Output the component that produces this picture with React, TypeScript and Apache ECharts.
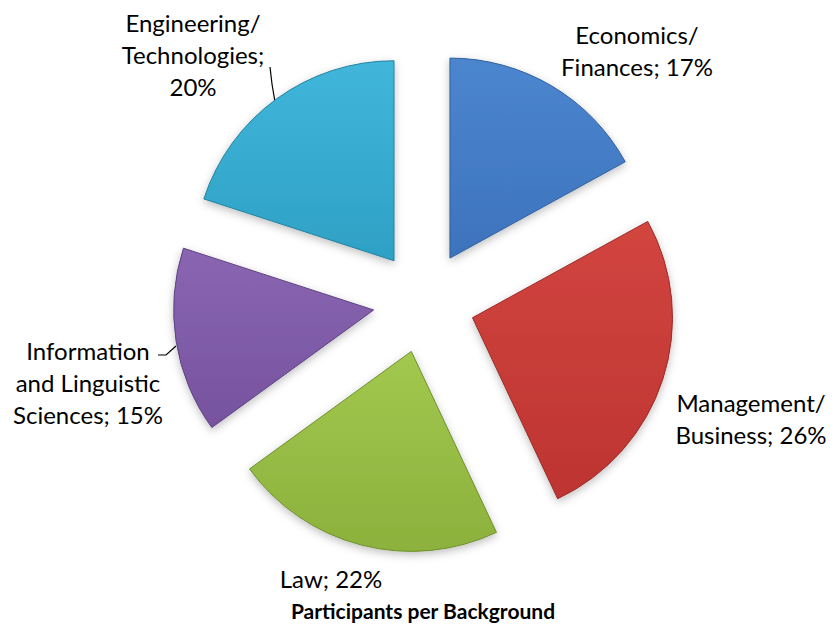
import React, { useEffect, useRef } from "react";
import * as echarts from "echarts";

const categories = [
  "Economics/Finances",
  "Management/Business",
  "Law",
  "Information and Linguistic Sciences",
  "Engineering/Technologies",
];
const shares = [17, 26, 22, 15, 20];
const labelNames = [
  "Economics/\nFinances",
  "Management/\nBusiness",
  "Law",
  "Information\nand Linguistic\nSciences",
  "Engineering/\nTechnologies",
];
const labelSeparators = ["; ", "; ", "; ", "; ", ";\n"];
const sliceLight = ["#4B86CF", "#D2453F", "#A2C84F", "#8A66B2", "#40B6DA"];
const sliceDark = ["#3D73BC", "#BD3431", "#8CB13C", "#76529F", "#2EA1C5"];
const sliceBorders = ["#2F5F9E", "#9A2A28", "#6E8F2C", "#5C4180", "#23819F"];
const chartTitle = "Participants per Background";

export default function App() {
  const ref = useRef<HTMLDivElement>(null);
  useEffect(() => {
    document.body.style.margin = "0";
    if (!ref.current) return;
    const chart = echarts.init(ref.current, null, { renderer: "svg" });
    const total = shares.reduce((a, b) => a + b, 0);
    const labelPos = [
      { x: 637, y: 50 },
      { x: 751, y: 418 },
      { x: 331, y: 578 },
      { x: 88, y: 382 },
      { x: 193, y: 54 },
    ];
    const leaderLines = [
      [[158, 355], [166, 355], [176, 346]],
      [[270, 67], [272, 84], [275, 102]],
    ];
    const font = "24px Lato";
    const labelGraphics: any[] = categories.map((_, i) => ({
      type: "text",
      x: labelPos[i].x,
      y: labelPos[i].y,
      silent: true,
      style: {
        text:
          labelNames[i] + labelSeparators[i] + Math.round((shares[i] / total) * 100) + "%",
        font,
        lineHeight: 32,
        fill: "#000",
        align: "center",
        verticalAlign: "middle",
      },
    }));
    const lineGraphics: any[] = leaderLines.map((pts) => ({
      type: "polyline",
      silent: true,
      shape: { points: pts },
      style: { stroke: "#000", lineWidth: 1.2, fill: null },
    }));
    chart.setOption({
      animation: false,
      backgroundColor: "#ffffff",
      title: {
        text: chartTitle,
        left: 423,
        top: 599,
        padding: 0,
        textAlign: "center",
        textStyle: {
          fontFamily: "Lato",
          fontWeight: "bold",
          fontSize: 21,
          lineHeight: 23,
          color: "#000",
        },
      },
      graphic: [...labelGraphics, ...lineGraphics],
      series: [
        {
          type: "pie",
          center: [424, 302],
          radius: 200,
          startAngle: 90,
          clockwise: true,
          selectedMode: "multiple",
          selectedOffset: 51,
          emphasis: { disabled: true },
          label: { show: false },
          labelLine: { show: false },
          data: categories.map((name, i) => ({
            name,
            value: shares[i],
            selected: true,
            itemStyle: {
              color: new echarts.graphic.LinearGradient(0, 0, 0, 1, [
                { offset: 0, color: sliceLight[i] },
                { offset: 1, color: sliceDark[i] },
              ]),
              borderColor: sliceBorders[i],
              borderWidth: 1,
              shadowBlur: 8,
              shadowOffsetY: 3,
              shadowColor: "rgba(0,0,0,0.25)",
            },
          })),
        },
      ],
    });
    return () => chart.dispose();
  }, []);
  return <div ref={ref} style={{ width: 835, height: 624 }} />;
}
